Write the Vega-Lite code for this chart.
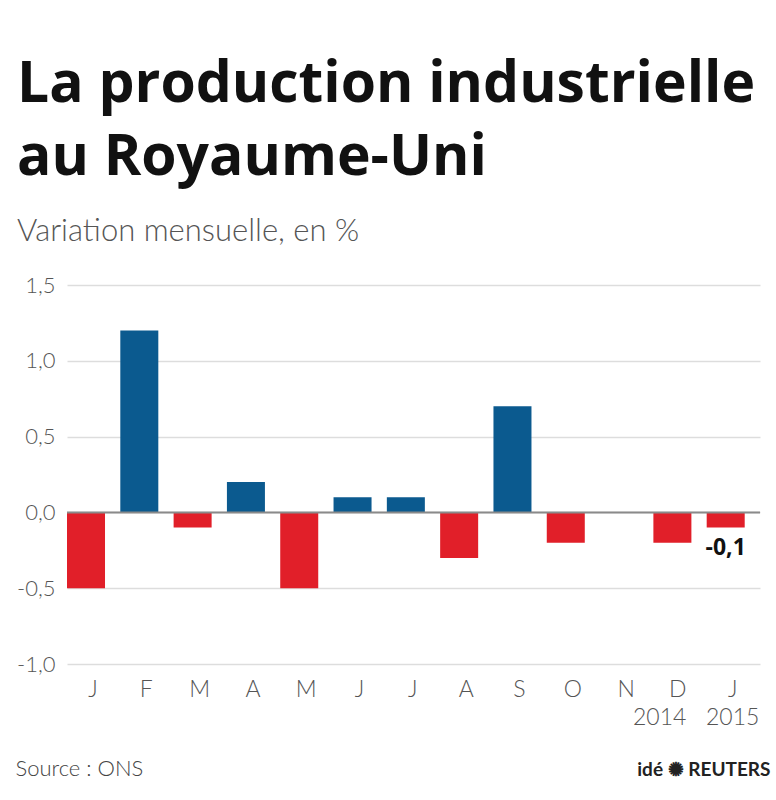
{
  "$schema": "https://vega.github.io/schema/vega-lite/v6.json",
  "autosize": {"type": "none"},
  "padding": {"left": 67, "top": 285, "right": 16, "bottom": 136},
  "width": 693,
  "height": 379,
  "background": "white",
  "title": {
    "text": ["La production industrielle", "au Royaume-Uni"],
    "subtitle": "Variation mensuelle, en %",
    "anchor": "start",
    "frame": "group",
    "dx": -50,
    "offset": 26,
    "font": "Open Sans",
    "fontSize": 57,
    "fontWeight": "bold",
    "color": "#111111",
    "lineHeight": 73,
    "subtitleFont": "Lato",
    "subtitleFontSize": 31,
    "subtitleFontWeight": 300,
    "subtitleColor": "#555555",
    "subtitlePadding": 30
  },
  "config": {
    "view": {"stroke": null},
    "axis": {"labelFont": "Lato", "titleFont": "Lato"}
  },
  "data": {
    "values": [
      {"k": "J-2014-01", "v": -0.5},
      {"k": "F-2014-02", "v": 1.2},
      {"k": "M-2014-03", "v": -0.1},
      {"k": "A-2014-04", "v": 0.2},
      {"k": "M-2014-05", "v": -0.5},
      {"k": "J-2014-06", "v": 0.1},
      {"k": "J-2014-07", "v": 0.1},
      {"k": "A-2014-08", "v": -0.3},
      {"k": "S-2014-09", "v": 0.7},
      {"k": "O-2014-10", "v": -0.2},
      {"k": "N-2014-11", "v": 0.0},
      {"k": "D-2014-12", "v": -0.2},
      {"k": "J-2015-01", "v": -0.1, "label": "-0,1"}
    ]
  },
  "encoding": {
    "x": {
      "field": "k",
      "type": "nominal",
      "sort": null,
      "scale": {"paddingInner": 0.287, "paddingOuter": 0.1435, "align": 0},
      "axis": {
        "title": "Source : ONS",
        "titleX": -52,
        "titleY": 104,
        "titleAlign": "left",
        "titleAnchor": "start",
        "titleBaseline": "middle",
        "titleFontSize": 22,
        "titleFontWeight": 300,
        "titleColor": "#444444",
        "labelAngle": 0,
        "labelFontSize": 23,
        "labelFontWeight": 300,
        "labelColor": "#555555",
        "labelPadding": 14,
        "labelOffset": {"condition": {"test": "datum.value == 'D-2014-12'", "value": 14}, "value": 7},
        "labelAlign": {"condition": {"test": "datum.value == 'D-2014-12'", "value": "right"}, "value": "center"},
        "labelLineHeight": 28,
        "labelBaseline": "top",
        "domain": false,
        "ticks": false,
        "labelExpr": "datum.value == 'D-2014-12' ? ['D', '2014'] : datum.value == 'J-2015-01' ? ['J', '2015'] : split(datum.value, '-')[0]"
      }
    }
  },
  "layer": [
    {
      "mark": {"type": "bar"},
      "encoding": {
        "y": {
          "field": "v",
          "type": "quantitative",
          "scale": {"domain": [-1, 1.5], "nice": false},
          "axis": {
            "values": [-1, -0.5, 0, 0.5, 1, 1.5],
            "labelExpr": "replace(replace(format(datum.value, '.1f'), '.', ','), '\u2212', '-')",
            "labelFontSize": 22,
            "labelFontWeight": 300,
            "labelColor": "#555555",
            "labelPadding": 12,
            "domain": false,
            "ticks": false,
            "grid": true,
            "gridColor": "#dddddd",
            "gridWidth": 1.5,
            "title": "idé ✺ REUTERS",
            "titleAngle": 0,
            "titleX": 703,
            "titleY": 484,
            "titleAlign": "right",
            "titleBaseline": "middle",
            "titleFontSize": 19,
            "titleFontWeight": "bold",
            "titleColor": "#222222"
          }
        },
        "color": {
          "condition": {"test": "datum.v > 0", "value": "#0b5a8f"},
          "value": "#e11f29"
        }
      }
    },
    {
      "data": {"values": [{"z": 0}]},
      "mark": {"type": "rule", "color": "#8a8a8a", "strokeWidth": 2},
      "encoding": {"y": {"field": "z", "type": "quantitative"}, "x": {}}
    },
    {
      "transform": [{"filter": "datum.label"}],
      "mark": {
        "type": "text",
        "font": "Open Sans",
        "fontSize": 23,
        "fontWeight": "bold",
        "color": "#111111",
        "baseline": "top",
        "dy": 9,
        "dx": 0
      },
      "encoding": {
        "y": {"field": "v", "type": "quantitative"},
        "text": {"field": "label"}
      }
    }
  ]
}
